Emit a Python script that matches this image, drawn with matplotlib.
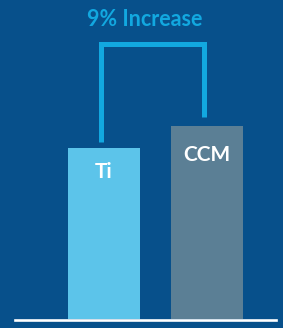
import matplotlib
matplotlib.use("Agg")
import matplotlib.pyplot as plt

# data
labels = ["Ti", "CCM"]
values = [171, 193]
title = "9% Increase"

bg = "#07508b"
bar_colors = ["#5cc4ea", "#5b7f95"]
accent = "#12a8e0"

plt.rcParams['font.family'] = ['Lato', 'DejaVu Sans']

fig = plt.figure(figsize=(2.83, 3.28), dpi=100, facecolor=bg)
ax = fig.add_axes([0, 0, 1, 1])
ax.set_facecolor(bg)

x = list(range(len(labels)))
ax.bar(x, values, width=0.7, color=bar_colors, zorder=2)
ax.set_xlim(-104/103, (283-104)/103)
ax.set_ylim(-9, 319)
ax.axis("off")

# baseline
ax.axhline(-1.2, xmin=15/283, xmax=276/283, color="white", lw=1.9, zorder=3)

# labels in bars
ax.text(x[0], 147, labels[0], color="white", fontsize=15, fontweight="bold",
        ha="center", va="center", zorder=4)
ax.text(x[1], 164, labels[1], color="white", fontsize=15, fontweight="bold",
        ha="center", va="center", zorder=4)

# bracket
off = -3.5/103
top = 275.5
ax.plot([x[0]+off, x[0]+off, x[1]+off, x[1]+off],
        [values[0]+6, top, top, values[1]+9],
        color=accent, lw=3.6, solid_joinstyle="miter", solid_capstyle="butt", zorder=3)

ax.text(0.398, 299, title, color=accent, fontsize=15.5, fontweight="bold",
        ha="center", va="center")

fig.savefig("out.png", dpi=100, facecolor=bg)
